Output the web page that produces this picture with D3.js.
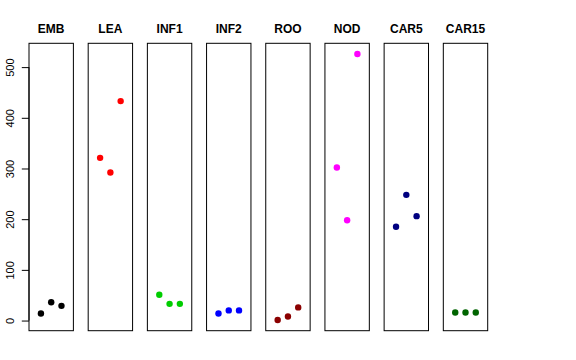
<!DOCTYPE html>
<html>
<head>
<meta charset="utf-8">
<script src="https://cdn.jsdelivr.net/npm/d3@7"></script>
<style>
  html, body { margin: 0; padding: 0; background: #fff; }
  svg { display: block; }
  text { font-family: "Liberation Sans", Arial, Helvetica, sans-serif; }
</style>
</head>
<body>
<svg id="chart" width="576" height="360"></svg>
<script>
// ---- data ----
const categories = ["EMB", "LEA", "INF1", "INF2", "ROO", "NOD", "CAR5", "CAR15"];
const replicates = [1, 2, 3];
const EMB   = [14, 36, 29];
const LEA   = [321, 292, 433];
const INF1  = [51, 33, 33];
const INF2  = [14, 20, 20];
const ROO   = [1, 8, 26];
const NOD   = [302, 198, 526];
const CAR5  = [185, 248, 206];
const CAR15 = [16, 16, 16];
const seriesValues = [EMB, LEA, INF1, INF2, ROO, NOD, CAR5, CAR15];
const colors = ["#000000", "#FF0000", "#00CD00", "#0000FF", "#8B0000", "#FF00FF", "#000080", "#006400"];
const yTicks = [0, 100, 200, 300, 400, 500];

// ---- layout ----
(function () {
const svg = d3.select("#chart");
const plotTop = 43.3, plotBottom = 330.7;

const panel = d3.scaleBand()
  .domain(categories)
  .range([29, 487.7])
  .paddingInner(0.25)
  .paddingOuter(0);

const allVals = seriesValues.flat();
const ymin = d3.min(allVals), ymax = d3.max(allVals);
const yr = ymax - ymin;
const y = d3.scaleLinear()
  .domain([ymin - 0.04 * yr, ymax + 0.04 * yr])
  .range([plotBottom, plotTop]);

const x = d3.scaleLinear()
  .domain([0 - 0.16, 4 + 0.16])
  .range([0, panel.bandwidth()]);

categories.forEach((cat, i) => {
  const g = svg.append("g").attr("transform", `translate(${panel(cat)},0)`);
  g.append("rect")
    .attr("x", 0).attr("y", plotTop)
    .attr("width", panel.bandwidth()).attr("height", plotBottom - plotTop)
    .attr("fill", "none").attr("stroke", "#000").attr("stroke-width", 1);
  g.append("text")
    .attr("x", panel.bandwidth() / 2).attr("y", 33.3)
    .attr("text-anchor", "middle")
    .attr("font-weight", "bold").attr("font-size", 12)
    .text(cat);
  g.selectAll("circle")
    .data(seriesValues[i].map((v, j) => ({ v, r: replicates[j] })))
    .enter().append("circle")
    .attr("cx", d => x(d.r)).attr("cy", d => y(d.v))
    .attr("r", 3.2).attr("fill", colors[i]);
  if (i === 0) {
    const ax = d3.axisLeft(y).tickValues(yTicks).tickSize(7.2).tickPadding(0).tickFormat(d3.format("d"));
    const ag = g.append("g").call(ax);
    ag.select(".domain").attr("d", `M0,${y(0)}V${y(500)}`).attr("stroke", "#000");
    ag.selectAll(".tick line").attr("stroke", "#000");
    ag.selectAll(".tick text")
      .attr("font-size", 11)
      .attr("font-family", "Liberation Sans, Arial, sans-serif")
      .attr("fill", "#000")
      .attr("text-anchor", "middle")
      .attr("dy", null)
      .attr("x", null)
      .attr("transform", "translate(-14.6,0) rotate(-90)");
  }
});
})();
</script>
</body>
</html>
